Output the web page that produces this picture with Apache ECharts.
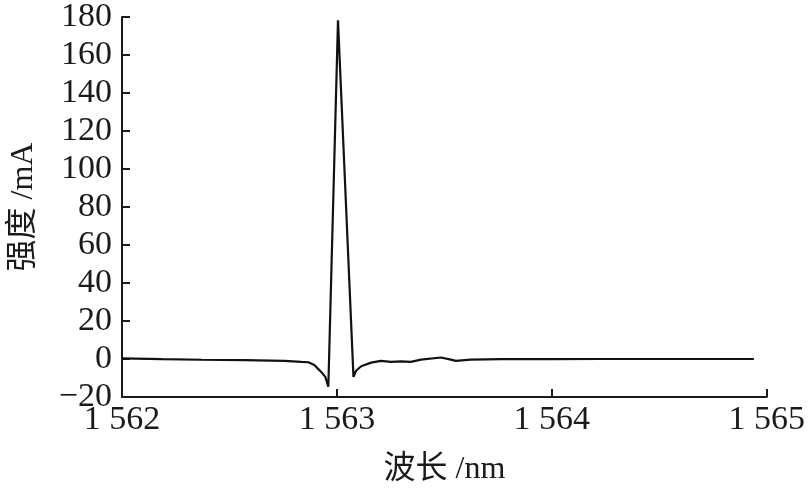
<!DOCTYPE html>
<html>
<head>
<meta charset="utf-8">
<script src="https://cdn.jsdelivr.net/npm/echarts@6/dist/echarts.min.js"></script>
<style>html,body{margin:0;padding:0;background:#fff}#c{width:808px;height:492px}</style>
</head>
<body>
<div id="c"></div>
<script>
var wavelength = [1562.00,1562.185,1562.371,1562.570,1562.756,1562.834,1562.867,1562.895,1562.909,1562.927,1562.946,1562.960,1563.005,1563.077,1563.089,1563.113,1563.159,1563.205,1563.252,1563.298,1563.344,1563.391,1563.484,1563.530,1563.553,1563.623,1563.762,1563.994,1564.225,1564.457,1564.689,1564.94];
var intensity = [0.3,-0.1,-0.4,-0.6,-1.0,-1.5,-1.7,-3.2,-4.8,-6.8,-9.4,-14.6,178.3,-9.4,-6.2,-3.8,-1.9,-1.0,-1.5,-1.2,-1.5,-0.3,0.8,-0.3,-1.0,-0.3,-0.1,-0.1,0,0,0,0];
var xTicks = {min:1562, max:1565, step:1};
var yTicks = {min:-20, max:180, step:20};
var xName = '波长 /nm';
var yName = '强度 /mA';

var pts = wavelength.map(function(w,i){return [w,intensity[i]];});
var font = "'Liberation Serif','Noto Sans CJK SC',serif";
var chart = echarts.init(document.getElementById('c'));
chart.setOption({
  animation:false,
  backgroundColor:'#fff',
  grid:{left:120,right:41,top:15,bottom:95,containLabel:false},
  xAxis:{
    type:'value', min:xTicks.min, max:xTicks.max, interval:xTicks.step,
    name:xName, nameLocation:'middle', nameGap:57,
    nameTextStyle:{fontFamily:font,fontSize:32,color:'#1a1a1a'},
    axisLine:{onZero:false,lineStyle:{color:'#1a1a1a',width:2}},
    axisTick:{inside:true,length:8,lineStyle:{color:'#1a1a1a',width:2}},
    axisLabel:{fontFamily:font,fontSize:34,color:'#1a1a1a',margin:6,
      formatter:function(v){var s=String(v);return s.charAt(0)+' '+s.slice(1);}},
    splitLine:{show:false}
  },
  yAxis:{
    type:'value', min:yTicks.min, max:yTicks.max, interval:yTicks.step,
    name:yName, nameLocation:'middle', nameGap:82,
    nameTextStyle:{fontFamily:font,fontSize:32,color:'#1a1a1a'},
    axisLine:{show:true,lineStyle:{color:'#1a1a1a',width:2}},
    axisTick:{show:true,inside:true,length:8,lineStyle:{color:'#1a1a1a',width:2}},
    axisLabel:{fontFamily:font,fontSize:34,color:'#1a1a1a',margin:10,
      formatter:function(v){return String(v).replace('-','\u2212');}},
    splitLine:{show:false}
  },
  series:[{
    type:'line', data:pts, showSymbol:false, symbol:'none',
    lineStyle:{color:'#111',width:2.2}
  }]
});
</script>
</body>
</html>
